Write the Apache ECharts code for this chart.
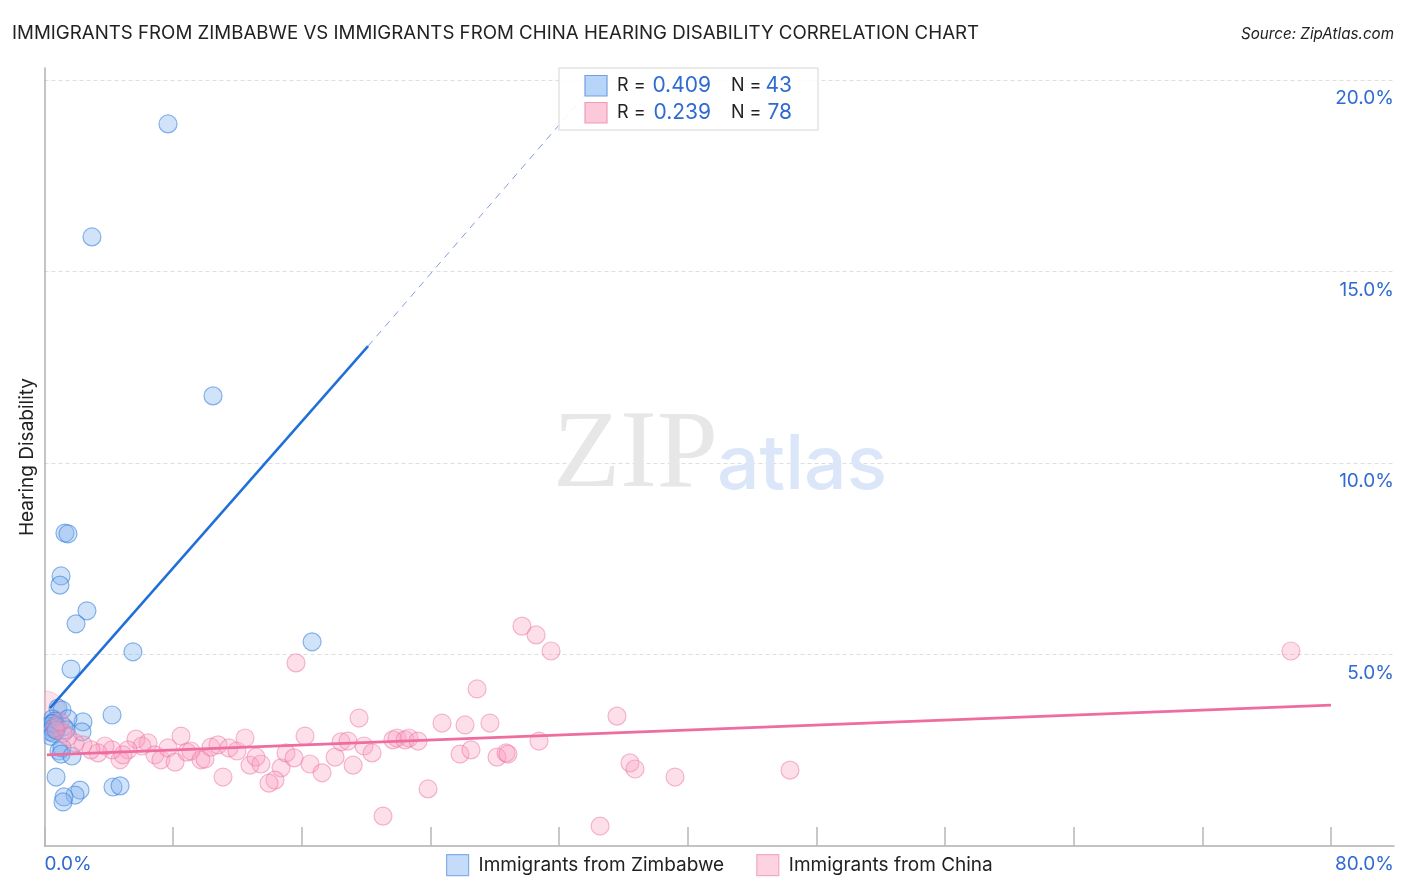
<!DOCTYPE html>
<html><head><meta charset="utf-8">
<style>html,body{margin:0;padding:0;background:#fff}#c{width:1406px;height:892px}</style>
<script src="https://cdn.jsdelivr.net/npm/echarts@6/dist/echarts.min.js"></script>
</head><body><div id="c"></div>
<script>
const titleText = 'IMMIGRANTS FROM ZIMBABWE VS IMMIGRANTS FROM CHINA HEARING DISABILITY CORRELATION CHART';
const sourceText = 'Source: ZipAtlas.com';
const yAxisName = 'Hearing Disability';
const seriesNames = ['Immigrants from Zimbabwe', 'Immigrants from China'];
const xTicks = [0, 8, 16, 24, 32, 40, 48, 56, 64, 72, 80];
const xMax = 83.92, yMax = 20.31;
const yTicks = [5, 10, 15, 20];
const zimbabwe = [[7.68,18.85],[2.95,15.90],[10.48,11.75],[1.27,8.17],[1.46,8.15],[1.03,7.05],[0.96,6.81],[2.64,6.14],[1.96,5.80],[5.50,5.07],[16.64,5.33],[1.65,4.62],[4.20,3.42],[2.39,3.24],[2.33,2.98],[0.84,3.60],[1.09,3.55],[1.46,3.32],[0.50,3.32],[0.62,3.26],[0.42,3.19],[0.66,3.14],[0.30,3.12],[0.48,3.06],[0.80,3.11],[0.36,2.98],[0.58,2.94],[1.20,3.11],[1.34,3.03],[0.42,2.86],[0.55,3.20],[0.72,3.02],[0.90,2.48],[1.09,2.56],[1.03,2.40],[1.71,2.35],[0.72,1.80],[4.26,1.54],[4.70,1.57],[2.21,1.46],[1.90,1.33],[1.21,1.28],[1.15,1.15]];
const china = [[15.64,4.78],[8.49,2.87],[5.69,2.79],[6.44,2.69],[6.06,2.61],[5.19,2.51],[4.70,2.25],[4.88,2.38],[4.20,2.51],[3.76,2.61],[3.33,2.43],[2.89,2.51],[2.39,2.64],[1.90,2.69],[1.46,2.85],[1.15,2.95],[6.87,2.38],[7.24,2.25],[7.68,2.56],[8.12,2.19],[8.86,2.45],[9.11,2.48],[9.73,2.25],[9.98,2.27],[10.35,2.58],[10.79,2.64],[11.47,2.56],[11.97,2.48],[12.47,2.82],[11.10,1.80],[12.78,2.11],[13.15,2.32],[13.46,2.14],[14.71,2.04],[14.33,1.72],[13.96,1.64],[15.02,2.43],[15.52,2.30],[16.20,2.87],[16.51,2.14],[17.26,1.91],[18.07,2.32],[18.44,2.72],[18.87,2.74],[19.56,3.34],[19.87,2.61],[20.37,2.43],[19.19,2.11],[21.67,2.77],[21.92,2.82],[22.42,2.77],[22.67,2.82],[23.23,2.74],[23.85,1.49],[21.05,0.78],[24.72,3.21],[26.15,3.16],[27.70,3.21],[26.90,4.10],[25.84,2.40],[26.52,2.51],[28.14,2.32],[28.70,2.43],[28.82,2.40],[30.75,2.74],[29.69,5.74],[30.57,5.51],[31.50,5.09],[35.60,3.39],[36.41,2.17],[36.72,2.01],[39.21,1.80],[34.55,0.52],[46.36,1.98],[77.51,5.09],[0.65,3.08],[0.96,3.24]];
const chinaLargePoint = [[0,3.5]];
const zimbabweTrend = [[0.34,3.60],[20.12,13.05]];
const zimbabweTrendExt = [[20.12,13.05],[34.42,20.0]];
const chinaTrend = [[0.15,2.38],[80,3.68]];
const legendStats = [['0.409','43'],['0.239','78']];

const FONT = 'Inter';
const BLUE = '#2f6bd0', DARK = '#222';
const chart = echarts.init(document.getElementById('c'));
const blueStyle = {color:'rgba(130,178,238,0.46)',borderColor:'rgba(50,125,220,0.7)',borderWidth:1.2};
const pinkStyle = {color:'rgba(248,160,192,0.42)',borderColor:'rgba(236,115,162,0.62)',borderWidth:1.2};
const statText = (y,r,n) => [
 {type:'text',z:21,style:{x:617,y,text:'R =',font:'18px '+FONT,fill:DARK,textVerticalAlign:'middle'}},
 {type:'text',z:21,style:{x:711,y,text:r,font:'21px '+FONT,fill:BLUE,textAlign:'right',textVerticalAlign:'middle'}},
 {type:'text',z:21,style:{x:731,y,text:'N =',font:'18px '+FONT,fill:DARK,textVerticalAlign:'middle'}},
 {type:'text',z:21,style:{x:792,y,text:n,font:'21px '+FONT,fill:BLUE,textAlign:'right',textVerticalAlign:'middle'}}
];
chart.setOption({
 animation:false,
 backgroundColor:'#fff',
 title:[
  {text:titleText,left:7,top:19,textStyle:{fontFamily:FONT,fontSize:18.7,fontWeight:'normal',color:DARK}},
  {text:sourceText,right:7,top:22,textStyle:{fontFamily:FONT,fontSize:15.2,fontWeight:'normal',fontStyle:'italic',color:DARK}}
 ],
 grid:{left:44.5,right:12,top:68,bottom:46},
 legend:{left:441,top:849,itemWidth:22,itemHeight:21,itemGap:32,
  textStyle:{fontFamily:FONT,fontSize:19,color:DARK,padding:[0,0,0,5]},
  data:[
   {name:seriesNames[0],icon:'rect',itemStyle:{color:'#b5d3f8',borderColor:'#6f9fe0',borderWidth:1.2}},
   {name:seriesNames[1],icon:'rect',itemStyle:{color:'#fcc8da',borderColor:'#f09ab8',borderWidth:1.2}}
  ]},
 xAxis:{type:'value',min:0,max:xMax,interval:8,
  axisLine:{show:true,onZero:false,lineStyle:{color:'#b0b0b0',width:1.5}},
  axisTick:{show:true,inside:true,length:19,customValues:xTicks,lineStyle:{color:'#b8b8b8',width:1.5}},
  axisLabel:{customValues:[0,xMax],formatter:v=>v===0?'0.0%':'80.0%',alignMinLabel:'left',alignMaxLabel:'right',margin:9,
   fontFamily:FONT,fontSize:19,color:BLUE},
  splitLine:{show:false}},
 yAxis:[
  {type:'value',min:0,max:yMax,interval:5,position:'left',name:yAxisName,nameLocation:'middle',nameGap:8,
   nameTextStyle:{fontFamily:FONT,fontSize:19,color:DARK},
   axisLine:{show:true,lineStyle:{color:'#b0b0b0',width:1.5}},axisTick:{show:false},axisLabel:{show:false},
   splitLine:{show:true,showMinLine:false,showMaxLine:false,lineStyle:{color:'#dedede',type:[4,3],width:1}}},
  {type:'value',min:0,max:yMax,interval:5,position:'right',
   axisLine:{show:false},axisTick:{show:false},splitLine:{show:false},
   axisLabel:{inside:true,customValues:yTicks,formatter:v=>v.toFixed(1)+'%',align:'right',verticalAlign:'top',padding:[9,0,0,0],margin:0,
    fontFamily:FONT,fontSize:19,color:BLUE}}
 ],
 series:[
  {name:seriesNames[0],type:'scatter',data:zimbabwe,symbolSize:18,itemStyle:blueStyle,z:3},
  {name:seriesNames[1],type:'scatter',data:china,symbolSize:18,itemStyle:pinkStyle,z:4},
  {name:'chinaLarge',type:'scatter',data:chinaLargePoint,symbolSize:42,itemStyle:{color:'rgba(248,170,195,0.42)',borderColor:'rgba(238,120,165,0.45)',borderWidth:1},z:2},
  {name:'zimbabweTrend',type:'line',data:zimbabweTrend,showSymbol:false,symbol:'none',lineStyle:{color:'#1f6fd8',width:2.5},z:5},
  {name:'zimbabweTrendExt',type:'line',data:zimbabweTrendExt,showSymbol:false,symbol:'none',lineStyle:{color:'#5f83d6',width:0.8,type:[7,6]},z:5},
  {name:'chinaTrend',type:'line',data:chinaTrend,showSymbol:false,symbol:'none',lineStyle:{color:'#ee6c9e',width:2.8},z:6}
 ],
 graphic:[
  {type:'text',z:1,style:{x:553,y:402,text:'ZIP',font:'110px "Liberation Serif"',fill:'#e7e7e7'}},
  {type:'text',z:1,style:{x:717,y:429,text:'atlas',font:'500 75px '+FONT,fill:'#dbe7f8'}},
  {type:'rect',z:7,shape:{x:20,y:680,width:23.7,height:70},style:{fill:'#fff'}},
  {type:'rect',z:20,shape:{x:559,y:68,width:259,height:62},style:{fill:'rgba(255,255,255,0.88)',stroke:'#e4e4e4',lineWidth:1.5}},
  {type:'rect',z:21,shape:{x:585,y:75.5,width:22,height:20.5},style:{fill:'rgba(170,205,248,0.85)',stroke:'#6f9fe0',lineWidth:1.2}},
  {type:'rect',z:21,shape:{x:585,y:102.5,width:22,height:20.5},style:{fill:'rgba(252,195,215,0.9)',stroke:'#f09ab8',lineWidth:1.2}},
  ...statText(86,legendStats[0][0],legendStats[0][1]),
  ...statText(113,legendStats[1][0],legendStats[1][1])
 ]
});
</script></body></html>
